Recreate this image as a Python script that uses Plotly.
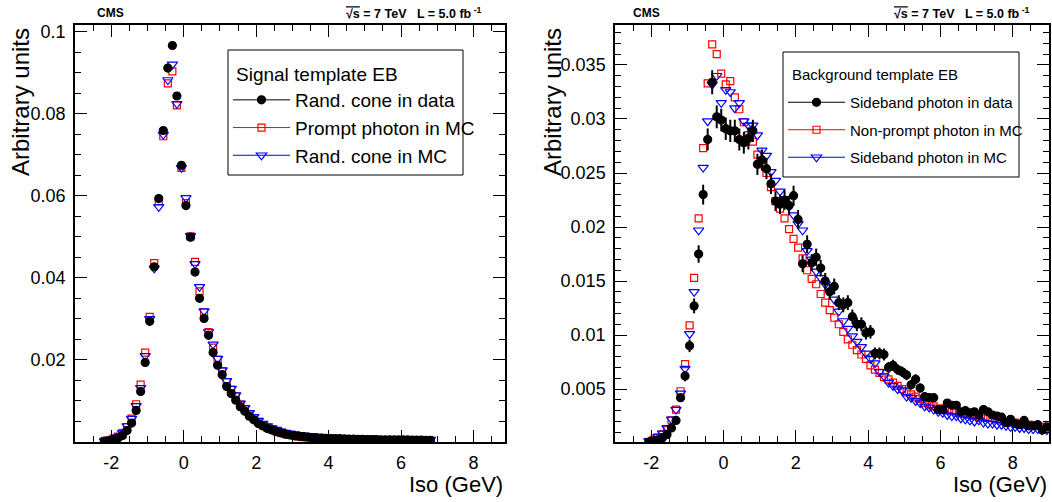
import plotly.graph_objects as go

# ---------------- data ----------------
# left panel: signal template EB, bins of 0.125 GeV
sig_iso = [
    -2.1875, -2.0625, -1.9375, -1.8125, -1.6875, -1.5625, -1.4375, -1.3125,
    -1.1875, -1.0625, -0.9375, -0.8125, -0.6875, -0.5625, -0.4375, -0.3125,
    -0.1875, -0.0625, 0.0625, 0.1875, 0.3125, 0.4375, 0.5625, 0.6875,
    0.8125, 0.9375, 1.0625, 1.1875, 1.3125, 1.4375, 1.5625, 1.6875,
    1.8125, 1.9375, 2.0625, 2.1875, 2.3125, 2.4375, 2.5625, 2.6875,
    2.8125, 2.9375, 3.0625, 3.1875, 3.3125, 3.4375, 3.5625, 3.6875,
    3.8125, 3.9375, 4.0625, 4.1875, 4.3125, 4.4375, 4.5625, 4.6875,
    4.8125, 4.9375, 5.0625, 5.1875, 5.3125, 5.4375, 5.5625, 5.6875,
    5.8125, 5.9375, 6.0625, 6.1875, 6.3125, 6.4375, 6.5625, 6.6875,
    6.8125,
]
sig_data = [
    0.0002, 0.0003, 0.0006, 0.0010, 0.0016, 0.0028, 0.0046, 0.0077,
    0.0123, 0.0194, 0.0294, 0.0427, 0.0593, 0.0759, 0.0911, 0.0966,
    0.0843, 0.0674, 0.0576, 0.0499, 0.0414, 0.0350, 0.0301, 0.0260,
    0.0218, 0.0187, 0.0164, 0.0135, 0.0118, 0.0102, 0.0086, 0.0075,
    0.0063, 0.0054, 0.0045, 0.0039, 0.0033, 0.0029, 0.0025, 0.0022,
    0.0019, 0.0017, 0.0015, 0.0014, 0.0013, 0.0012, 0.0011, 0.0010,
    0.00095, 0.0009, 0.00085, 0.0008, 0.0008, 0.00075, 0.0007, 0.0007,
    0.00065, 0.00065, 0.0006, 0.0006, 0.0006, 0.00055, 0.00055, 0.00055,
    0.0005, 0.0005, 0.0005, 0.0005, 0.00045, 0.00045, 0.00045, 0.0004,
    0.0004,
]
sig_prompt_mc = [
    0.0002, 0.0004, 0.0008, 0.0013, 0.0022, 0.0036, 0.0057, 0.0092,
    0.0140, 0.0218, 0.0305, 0.0436, 0.0586, 0.0745, 0.0874, 0.0903,
    0.0820, 0.0668, 0.0582, 0.0501, 0.0439, 0.0367, 0.0316, 0.0268,
    0.0230, 0.0200, 0.0172, 0.0146, 0.0127, 0.0111, 0.0091, 0.0080,
    0.0068, 0.0058, 0.0049, 0.0041, 0.0035, 0.0030, 0.0026, 0.0022,
    0.0019, 0.0017, 0.0015, 0.0013, 0.0012, 0.0011, 0.0010, 0.0009,
    0.00085, 0.0008, 0.00075, 0.0007, 0.0007, 0.00065, 0.0006, 0.0006,
    0.00055, 0.00055, 0.0005, 0.0005, 0.0005, 0.00045, 0.00045, 0.00045,
    0.0004, 0.0004, 0.0004, 0.0004, 0.00035, 0.00035, 0.00035, 0.0003,
    0.0003,
]
sig_rc_mc = [
    0.0002, 0.0004, 0.0008, 0.0013, 0.0022, 0.0039, 0.0057, 0.0088,
    0.0132, 0.0210, 0.0300, 0.0423, 0.0573, 0.0749, 0.0882, 0.0920,
    0.0824, 0.0668, 0.0595, 0.0502, 0.0434, 0.0378, 0.0319, 0.0268,
    0.0238, 0.0203, 0.0175, 0.0149, 0.0130, 0.0114, 0.0094, 0.0083,
    0.0071, 0.0061, 0.0052, 0.0045, 0.0039, 0.0034, 0.0030, 0.0026,
    0.0023, 0.0021, 0.0019, 0.0017, 0.0016, 0.0015, 0.0014, 0.0013,
    0.0012, 0.00115, 0.0011, 0.00105, 0.0010, 0.00095, 0.0009, 0.0009,
    0.00085, 0.00085, 0.0008, 0.0008, 0.00075, 0.00075, 0.0007, 0.0007,
    0.0007, 0.00065, 0.00065, 0.00065, 0.0006, 0.0006, 0.0006, 0.0006,
    0.0006,
]

# right panel: background template EB
bkg_iso = [
    -2.0625, -1.9375, -1.8125, -1.6875, -1.5625, -1.4375, -1.3125, -1.1875,
    -1.0625, -0.9375, -0.8125, -0.6875, -0.5625, -0.4375, -0.3125, -0.1875,
    -0.0625, 0.0625, 0.1875, 0.3125, 0.4375, 0.5625, 0.6875, 0.8125,
    0.9375, 1.0625, 1.1875, 1.3125, 1.4375, 1.5625, 1.6875, 1.8125,
    1.9375, 2.0625, 2.1875, 2.3125, 2.4375, 2.5625, 2.6875, 2.8125,
    2.9375, 3.0625, 3.1875, 3.3125, 3.4375, 3.5625, 3.6875, 3.8125,
    3.9375, 4.0625, 4.1875, 4.3125, 4.4375, 4.5625, 4.6875, 4.8125,
    4.9375, 5.0625, 5.1875, 5.3125, 5.4375, 5.5625, 5.6875, 5.8125,
    5.9375, 6.0625, 6.1875, 6.3125, 6.4375, 6.5625, 6.6875, 6.8125,
    6.9375, 7.0625, 7.1875, 7.3125, 7.4375, 7.5625, 7.6875, 7.8125,
    7.9375, 8.0625, 8.1875, 8.3125, 8.4375, 8.5625, 8.6875, 8.8125,
    8.9375,
]
bkg_data = [
    0.0001, 0.0002, 0.0003, 0.0005, 0.0008, 0.0014, 0.0021, 0.0042,
    0.0062, 0.0090, 0.0127, 0.0175, 0.0230, 0.0281, 0.0334, 0.0302,
    0.0299, 0.0291, 0.0289, 0.0289, 0.0281, 0.0278, 0.0282, 0.0289,
    0.0258, 0.0262, 0.0254, 0.0240, 0.0224, 0.0221, 0.0225, 0.0220,
    0.0229, 0.0207, 0.0166, 0.0184, 0.0167, 0.0172, 0.0162, 0.0150,
    0.0140, 0.0145, 0.0130, 0.0128, 0.0130, 0.0117, 0.0110, 0.0110,
    0.0102, 0.0103, 0.0083, 0.0083, 0.0082, 0.0070, 0.0072, 0.0068,
    0.0066, 0.0063, 0.0054, 0.0059, 0.0051, 0.0043, 0.0042, 0.0042,
    0.0031, 0.0031, 0.0037, 0.0035, 0.0035, 0.0029, 0.0030, 0.0028,
    0.0029, 0.0026, 0.0031, 0.0029, 0.0026, 0.0025, 0.0024, 0.0019,
    0.0022, 0.0018, 0.0017, 0.0021, 0.0016, 0.0016, 0.0017, 0.0012,
    0.0015,
]
bkg_data_err = [
    0.00006, 0.00009, 0.00011, 0.00014, 0.00017, 0.00023, 0.00028, 0.00039,
    0.00048, 0.00058, 0.00069, 0.00081, 0.00092, 0.00102, 0.00111, 0.00106,
    0.00105, 0.00104, 0.00103, 0.00103, 0.00102, 0.00101, 0.00102, 0.00103,
    0.00098, 0.00099, 0.00097, 0.00094, 0.00091, 0.00090, 0.00091, 0.00090,
    0.00092, 0.00088, 0.00078, 0.00083, 0.00079, 0.00080, 0.00077, 0.00075,
    0.00072, 0.00073, 0.00069, 0.00069, 0.00069, 0.00066, 0.00064, 0.00064,
    0.00061, 0.00062, 0.00055, 0.00055, 0.00055, 0.00051, 0.00052, 0.00050,
    0.00049, 0.00048, 0.00045, 0.00047, 0.00043, 0.00040, 0.00039, 0.00039,
    0.00034, 0.00034, 0.00037, 0.00036, 0.00036, 0.00033, 0.00033, 0.00032,
    0.00033, 0.00031, 0.00034, 0.00033, 0.00031, 0.00030, 0.00030, 0.00027,
    0.00029, 0.00026, 0.00025, 0.00028, 0.00024, 0.00024, 0.00025, 0.00021,
    0.00024,
]
bkg_nonprompt_mc = [
    0.0001, 0.0003, 0.0005, 0.0008, 0.0012, 0.0021, 0.0031, 0.0048,
    0.0073, 0.0109, 0.0153, 0.0208, 0.0273, 0.0333, 0.0369, 0.0360,
    0.0342, 0.0332, 0.0335, 0.0320, 0.0309, 0.0297, 0.0285, 0.0279,
    0.0267, 0.0258, 0.0250, 0.0237, 0.0224, 0.0217, 0.0208, 0.0198,
    0.0189, 0.0181, 0.0171, 0.0160, 0.0152, 0.0147, 0.0138, 0.0130,
    0.0123, 0.0116, 0.0110, 0.0103, 0.0096, 0.0091, 0.0086, 0.0082,
    0.0078, 0.0072, 0.0068, 0.0065, 0.0061, 0.0059, 0.0056, 0.0053,
    0.0050, 0.0047, 0.0045, 0.0043, 0.0041, 0.0037, 0.0035, 0.0034,
    0.0032, 0.0032, 0.0031, 0.0030, 0.0029, 0.0028, 0.0027, 0.0027,
    0.0026, 0.0024, 0.0025, 0.0024, 0.0023, 0.0022, 0.0021, 0.0020,
    0.0019, 0.0019, 0.0018, 0.0017, 0.0017, 0.0016, 0.0016, 0.0015,
    0.0015,
]
bkg_sideband_mc = [
    0.0002, 0.0003, 0.0006, 0.0009, 0.0014, 0.0022, 0.0031, 0.0046,
    0.0069, 0.0101, 0.0140, 0.0197, 0.0255, 0.0298, 0.0332, 0.0340,
    0.0315, 0.0327, 0.0325, 0.0310, 0.0315, 0.0298, 0.0294, 0.0294,
    0.0285, 0.0271, 0.0266, 0.0251, 0.0243, 0.0233, 0.0226, 0.0219,
    0.0211, 0.0203, 0.0197, 0.0178, 0.0170, 0.0159, 0.0153, 0.0147,
    0.0140, 0.0133, 0.0122, 0.0113, 0.0106, 0.0099, 0.0094, 0.0089,
    0.0083, 0.0078, 0.0074, 0.0066, 0.0062, 0.0056, 0.0053, 0.0050,
    0.0049, 0.0043, 0.0042, 0.0039, 0.0037, 0.0034, 0.0033, 0.0031,
    0.0029, 0.0028, 0.0026, 0.0025, 0.0025, 0.0023, 0.0022, 0.0021,
    0.0020, 0.0021, 0.0019, 0.0018, 0.0018, 0.0017, 0.0017, 0.0016,
    0.0015, 0.0015, 0.0014, 0.0014, 0.0013, 0.0013, 0.0013, 0.0012,
    0.0012,
]

x_ticks = [-2, 0, 2, 4, 6, 8]
x_ticktext = ["-2", "0", "2", "4", "6", "8"]
sig_yticks = [0.02, 0.04, 0.06, 0.08, 0.1]
sig_yticktext = ["0.02", "0.04", "0.06", "0.08", "0.1"]
bkg_yticks = [0.005, 0.01, 0.015, 0.02, 0.025, 0.03, 0.035]
bkg_yticktext = ["0.005", "0.01", "0.015", "0.02", "0.025", "0.03", "0.035"]

FONT = "Liberation Sans, Arial, Helvetica, sans-serif"
W, H = 1052, 502


def fx(p):  # pixel -> paper x
    return p / W


def fy(p):  # pixel (from top) -> paper y
    return 1 - p / H


fig = go.Figure()


def add_markers(x, y, sym, col, size, xa, ya, err=None):
    tr = go.Scatter(x=x, y=y, mode="markers", xaxis=xa, yaxis=ya, showlegend=False,
                    marker=dict(symbol=sym, size=size, color=col,
                                line=dict(color=col, width=1.2)))
    if err is not None:
        tr.error_y = dict(type="data", array=err, visible=True, color=col,
                          thickness=2, width=0)
    fig.add_trace(tr)


def add_legend_entry(name, sym, col, size, legend):
    fig.add_trace(go.Scatter(x=[None], y=[None], mode="lines+markers", name=name,
                             legend=legend, legendgroup=name,
                             line=dict(color=col, width=1),
                             marker=dict(symbol=sym, size=size, color=col,
                                         line=dict(color=col, width=1.2))))


# left panel
add_markers(sig_iso, sig_prompt_mc, "square-open", "red", 7, "x", "y")
add_markers(sig_iso, sig_rc_mc, "triangle-down-open", "blue", 9, "x", "y")
add_markers(sig_iso, sig_data, "circle", "black", 8, "x", "y")
add_legend_entry("Rand. cone in data", "circle", "black", 8, "legend")
add_legend_entry("Prompt photon in MC", "square-open", "red", 7, "legend")
add_legend_entry("Rand. cone in MC", "triangle-down-open", "blue", 9, "legend")

# right panel
add_markers(bkg_iso, bkg_nonprompt_mc, "square-open", "red", 7, "x2", "y2")
add_markers(bkg_iso, bkg_sideband_mc, "triangle-down-open", "blue", 9, "x2", "y2")
add_markers(bkg_iso, bkg_data, "circle", "black", 8, "x2", "y2", err=bkg_data_err)
add_legend_entry("Sideband photon in data", "circle", "black", 8, "legend2")
add_legend_entry("Non-prompt photon in MC", "square-open", "red", 7, "legend2")
add_legend_entry("Sideband photon in MC", "triangle-down-open", "blue", 9, "legend2")

ax_common = dict(showline=True, linecolor="black", linewidth=1.5, mirror="ticks",
                 ticks="inside", ticklen=12, tickwidth=1, tickcolor="black",
                 showgrid=False, zeroline=False, ticklabelstandoff=4, automargin=False,
                 tickfont=dict(family=FONT, size=18, color="black"),
                 minor=dict(ticks="inside", ticklen=6, tickwidth=1, tickcolor="black",
                            showgrid=False))

legend_common = dict(xanchor="left", yanchor="middle", bgcolor="rgba(0,0,0,0)",
                     borderwidth=0, itemwidth=57)

ydom = [fy(442), fy(25)]
fig.update_layout(
    width=W, height=H, margin=dict(l=0, r=0, t=0, b=0, pad=0, autoexpand=False),
    paper_bgcolor="white", plot_bgcolor="white",
    font=dict(family=FONT, color="black"),
    xaxis=dict(ax_common, domain=[fx(75), fx(505)], range=[-3, 8.87],
               tickvals=x_ticks, ticktext=x_ticktext, minor_dtick=0.5, anchor="y"),
    yaxis=dict(ax_common, domain=ydom, range=[0, 0.1016],
               tickvals=sig_yticks, ticktext=sig_yticktext, minor_dtick=0.005, anchor="x"),
    xaxis2=dict(ax_common, domain=[fx(615), fx(1049)], range=[-3, 9],
                tickvals=x_ticks, ticktext=x_ticktext, minor_dtick=0.5, anchor="y2"),
    yaxis2=dict(ax_common, domain=ydom, range=[0.0001, 0.0387],
                tickvals=bkg_yticks, ticktext=bkg_yticktext, minor_dtick=0.001, anchor="x2"),
    legend=dict(legend_common, x=fx(228), y=fy(128),
                font=dict(family=FONT, size=19), tracegroupgap=0),
    legend2=dict(legend_common, x=fx(783), y=fy(130),
                 font=dict(family=FONT, size=15), tracegroupgap=5),
)

# legend frames (white, opaque) and legend headers
for x0, y0, x1, y1 in [(228, 50, 463, 175), (783, 52, 1019, 177)]:
    fig.add_shape(type="rect", xref="paper", yref="paper", layer="above",
                  x0=fx(x0), y0=fy(y0), x1=fx(x1), y1=fy(y1),
                  line=dict(color="black", width=1), fillcolor="white")
fig.add_annotation(x=fx(234), y=fy(75), text="Signal template EB", xanchor="left",
                   yanchor="middle", font=dict(family=FONT, size=19, color="black"))
fig.add_annotation(x=fx(790), y=fy(75), text="Background template EB", xanchor="left",
                   yanchor="middle", font=dict(family=FONT, size=15, color="black"))

header = ("<span style='text-decoration:overline'>\u221As</span> = 7 TeV   L = 5.0 fb"
          "<sup> -1</sup>")
annots = [
    dict(x=110, y=13, text="<b>CMS</b>", size=12),
    dict(x=646, y=13, text="<b>CMS</b>", size=12),
    dict(x=414, y=13, text="<b>" + header + "</b>", size=12.5),
    dict(x=962, y=13, text="<b>" + header + "</b>", size=12.5),
]
for a in annots:
    fig.add_annotation(x=fx(a["x"]), y=fy(a["y"]), text=a["text"],
                       font=dict(family=FONT, size=a["size"], color="black"),
                       xanchor="center", yanchor="middle")

for xpx in [505, 1049]:
    fig.add_annotation(x=fx(xpx), y=fy(484), text="Iso (GeV)", xanchor="right",
                       yanchor="middle", font=dict(family=FONT, size=22, color="black"))
for xpx in [21, 553]:
    fig.add_annotation(x=fx(xpx), y=fy(26), text="Arbitrary units", textangle=-90,
                       xanchor="center", yanchor="top",
                       font=dict(family=FONT, size=24, color="black"))
fig.update_annotations(xref="paper", yref="paper", showarrow=False)

# drop the default 8px page margin so the figure fills the window exactly
fig.write_html("out.html", config={"displayModeBar": False},
               post_script="document.body.style.margin='0px';")
